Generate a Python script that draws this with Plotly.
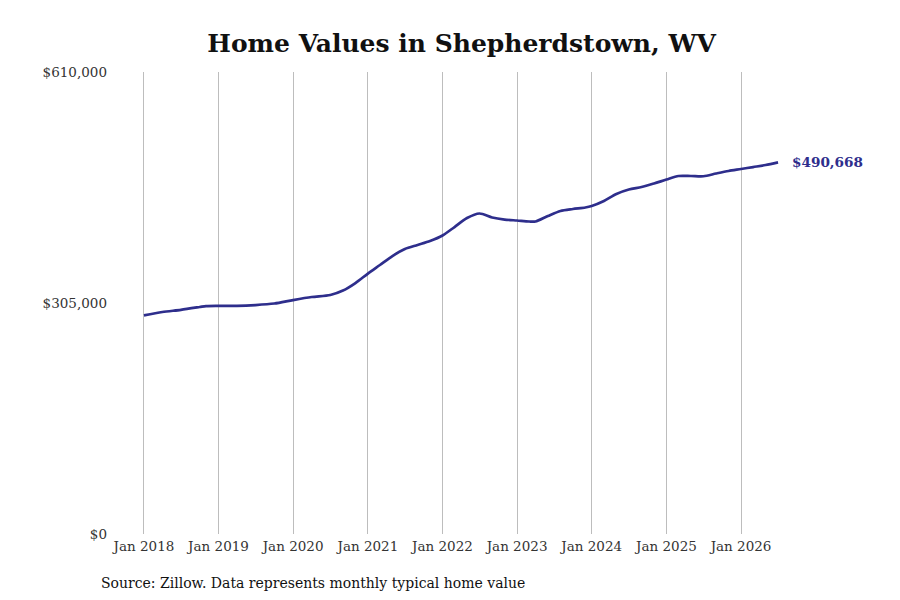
import plotly.graph_objects as go

# Typical home value (month, value)
dates = [
    "2018-01-01", "2018-04-01", "2018-07-01", "2018-10-01", "2018-11-01",
    "2019-01-01", "2019-04-01", "2019-07-01", "2019-10-01", "2020-01-01",
    "2020-04-01", "2020-07-01", "2020-09-01", "2020-11-01", "2021-01-01",
    "2021-03-01", "2021-05-01", "2021-07-01", "2021-09-01", "2021-11-01",
    "2022-01-01", "2022-03-01", "2022-05-01", "2022-07-01", "2022-09-01",
    "2022-11-01", "2023-01-01", "2023-03-01", "2023-04-01", "2023-06-01",
    "2023-08-01", "2023-10-01", "2023-12-01", "2024-01-01", "2024-03-01",
    "2024-05-01", "2024-07-01", "2024-09-01", "2024-11-01", "2025-01-01",
    "2025-03-01", "2025-05-01", "2025-07-01", "2025-09-01", "2025-11-01",
    "2026-01-01", "2026-03-01", "2026-05-01", "2026-07-01",
]
values = [
    288700, 293100, 296000, 299700, 301000,
    301300, 301300, 302300, 304300, 308900,
    312900, 315600, 321500, 331400, 343900,
    355200, 367000, 376300, 381600, 386800,
    394100, 405300, 417200, 423200, 417900,
    415200, 413900, 412600, 412600, 419900,
    426500, 429100, 431100, 433100, 439700,
    448900, 454800, 458100, 462800, 468000,
    472700, 472700, 472400, 476000, 479300,
    481900, 484500, 487200, 490668,
]

tick_vals = ["2018-01-01", "2019-01-01", "2020-01-01", "2021-01-01", "2022-01-01",
             "2023-01-01", "2024-01-01", "2025-01-01", "2026-01-01"]
tick_text = ["Jan 2018", "Jan 2019", "Jan 2020", "Jan 2021", "Jan 2022",
             "Jan 2023", "Jan 2024", "Jan 2025", "Jan 2026"]
y_ticks = [0, 305000, 610000]
y_text = ["$0", "$305,000", "$610,000"]

line_color = "#2e2e8c"
serif = "DejaVu Serif"

fig = go.Figure(go.Scatter(
    x=dates, y=values, mode="lines",
    line=dict(color=line_color, width=2.7, shape="spline", smoothing=0.8),
    hoverinfo="x+y",
))

# label at the last point
fig.add_annotation(
    x=dates[-1], y=values[-1], text="<b>${:,}</b>".format(values[-1]),
    showarrow=False, xanchor="left", xshift=12,
    font=dict(family=serif, size=13.6, color=line_color),
)

fig.add_annotation(
    text="Source: Zillow. Data represents monthly typical home value",
    xref="paper", yref="paper", x=-0.0145, y=-0.106, xanchor="left", yanchor="middle",
    showarrow=False, font=dict(family=serif, size=14, color="#111"),
)

# the page has an 8px body margin, so everything is laid out 8px up/left
fig.update_layout(
    width=900, height=600,
    margin=dict(l=102, r=38, t=64, b=74),
    paper_bgcolor="white", plot_bgcolor="white",
    showlegend=False,
    title=dict(text="<b>Home Values in Shepherdstown, WV</b>", x=0.504, xanchor="center",
               y=0.942, yanchor="middle",
               font=dict(family=serif, size=25, color="#111")),
    font=dict(family=serif, size=13.5, color="#333"),
)
fig.update_xaxes(
    range=["2017-07-19", "2027-09-24"],
    tickvals=tick_vals, ticktext=tick_text,
    showgrid=True, gridcolor="#bdbdbd", gridwidth=1,
    ticks="", ticklabelstandoff=2,
    showline=False, zeroline=False,
)
fig.update_yaxes(
    range=[0, 610000], tickvals=y_ticks, ticktext=y_text,
    showgrid=False, zeroline=False, showline=False,
    ticks="", ticklabelstandoff=2,
)

fig.write_html("out.html")
